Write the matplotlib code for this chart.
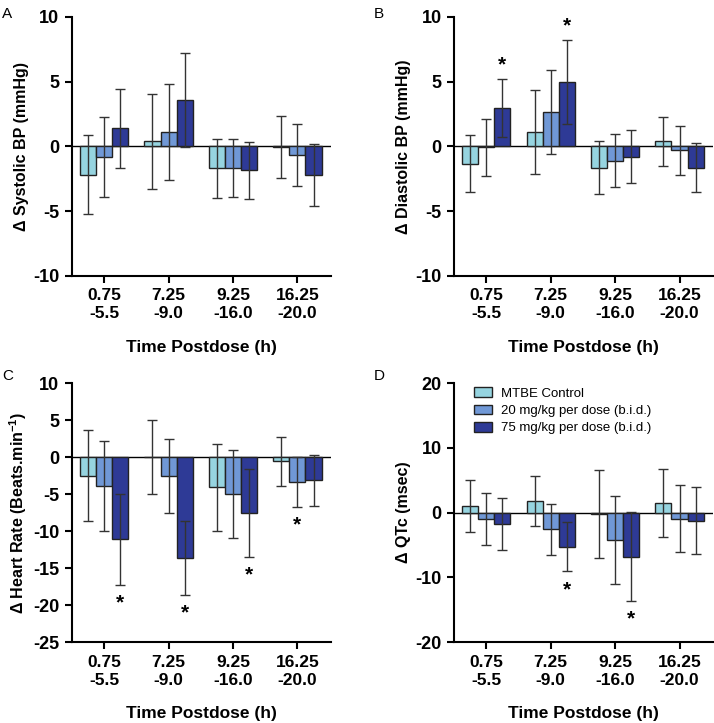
import numpy as np
import matplotlib
matplotlib.use('Agg')
from matplotlib import pyplot as plt

plt.rcParams['font.family'] = ['Liberation Sans', 'DejaVu Sans']
plt.rcParams['mathtext.fontset'] = 'custom'
plt.rcParams['mathtext.bf'] = 'Liberation Sans:bold'
plt.rcParams['mathtext.rm'] = 'Liberation Sans:bold'
plt.rcParams['axes.unicode_minus'] = False

time_labels = ['0.75\n-5.5', '7.25\n-9.0', '9.25\n-16.0', '16.25\n-20.0']
series_names = ['MTBE Control', '20 mg/kg per dose (b.i.d.)', '75 mg/kg per dose (b.i.d.)']
colors = ['#96D4E0', '#7098D6', '#2E3A96']

# means per series (rows: control, 20 mg/kg, 75 mg/kg), one value per time window
sbp_mean = [[-2.2, 0.4, -1.7, -0.05], [-0.8, 1.1, -1.65, -0.65], [1.4, 3.6, -1.85, -2.2]]
sbp_err = [[3.05, 3.65, 2.25, 2.4], [3.1, 3.7, 2.25, 2.4], [3.05, 3.65, 2.2, 2.4]]

dbp_mean = [[-1.35, 1.15, -1.65, 0.4], [-0.05, 2.65, -1.1, -0.3], [2.95, 5.0, -0.8, -1.65]]
dbp_err = [[2.2, 3.25, 2.05, 1.9], [2.2, 3.25, 2.05, 1.9], [2.25, 3.25, 2.05, 1.9]]

hr_mean = [[-2.5, 0.0, -4.1, -0.6], [-3.9, -2.5, -5.0, -3.35], [-11.1, -13.6, -7.6, -3.15]]
hr_err = [[6.1, 5.0, 5.9, 3.3], [6.1, 5.0, 6.0, 3.35], [6.15, 5.0, 5.95, 3.4]]

qtc_mean = [[1.05, 1.75, -0.2, 1.45], [-1.05, -2.6, -4.3, -0.95], [-1.8, -5.25, -6.8, -1.25]]
qtc_err = [[4.0, 3.9, 6.75, 5.2], [4.0, 3.9, 6.8, 5.2], [4.0, 3.85, 6.9, 5.15]]

# significance markers: (time window, series index, above=True / below=False)
dbp_stars = [(0, 2, True), (1, 2, True)]
hr_stars = [(0, 2, False), (1, 2, False), (2, 2, False), (3, 1, False)]
qtc_stars = [(1, 2, False), (2, 2, False)]

panels = [
    ('A', 'Δ Systolic BP (mmHg)', sbp_mean, sbp_err, [], (-10, 10), [-10, -5, 0, 5, 10]),
    ('B', 'Δ Diastolic BP (mmHg)', dbp_mean, dbp_err, dbp_stars, (-10, 10), [-10, -5, 0, 5, 10]),
    ('C', r'Δ Heart Rate (Beats.min$^{-1}$)', hr_mean, hr_err, hr_stars, (-25, 10),
     [-25, -20, -15, -10, -5, 0, 5, 10]),
    ('D', 'Δ QTc (msec)', qtc_mean, qtc_err, qtc_stars, (-20, 20), [-20, -10, 0, 10, 20]),
]
positions = [
    [0.1008, 0.6183, 0.3627, 0.3582],
    [0.6359, 0.6183, 0.3627, 0.3582],
    [0.1008, 0.1120, 0.3627, 0.3582],
    [0.6359, 0.1120, 0.3627, 0.3582],
]
letter_pos = [(0.003, 0.99), (0.524, 0.99), (0.003, 0.49), (0.524, 0.49)]

fig = plt.figure(figsize=(7.14, 7.23), dpi=100)
x = np.arange(len(time_labels))
width = 0.25

for i, (letter, ylabel, means, errs, stars, ylim, yticks) in enumerate(panels):
    ax = fig.add_axes(positions[i])
    ax.axhline(0, color='black', lw=1, zorder=1)
    for s in range(3):
        offs = (s - 1) * width
        ax.bar(x + offs, means[s], width, color=colors[s], edgecolor='#222222',
               linewidth=1, label=series_names[s], zorder=2)
        ax.errorbar(x + offs, means[s], yerr=errs[s], fmt='none', ecolor='#333333',
                    elinewidth=1, capsize=3.5, capthick=1, zorder=3)
    for g, s, above in stars:
        m = means[s][g]
        e = errs[s][g]
        yv = m + e if above else m - e
        ax.annotate('*', (x[g] + (s - 1) * width, yv), xytext=(0, 10 if above else -13),
                    textcoords='offset points', ha='center', va='center',
                    fontsize=15, fontweight='bold')
    ax.set_xlim(-0.5, 3.52)
    ax.set_ylim(*ylim)
    ax.set_yticks(yticks)
    ax.set_xticks(x)
    ax.set_xticklabels(time_labels, fontweight='bold', fontsize=12.5, linespacing=1.25)
    for lab in ax.get_yticklabels():
        lab.set_fontweight('bold')
        lab.set_fontsize(13)
    ax.spines['top'].set_visible(False)
    ax.spines['right'].set_visible(False)
    ax.spines['left'].set_linewidth(1.5)
    ax.spines['bottom'].set_linewidth(1.5)
    ax.tick_params(axis='both', width=1.5, length=5, pad=4)
    ax.set_ylabel(ylabel, fontweight='bold', fontsize=11.5, labelpad=3)
    ax.set_xlabel('Time Postdose (h)', fontweight='bold', fontsize=12.5, labelpad=13)
    fig.text(letter_pos[i][0], letter_pos[i][1], letter, fontsize=11, va='top', ha='left')
    if letter == 'D':
        ax.legend(loc='upper left', bbox_to_anchor=(0.03, 1.03), frameon=False,
                  fontsize=9.5, handlelength=1.4, handleheight=0.75,
                  labelspacing=0.38, handletextpad=0.65)

fig.savefig('out.png', dpi=100)
